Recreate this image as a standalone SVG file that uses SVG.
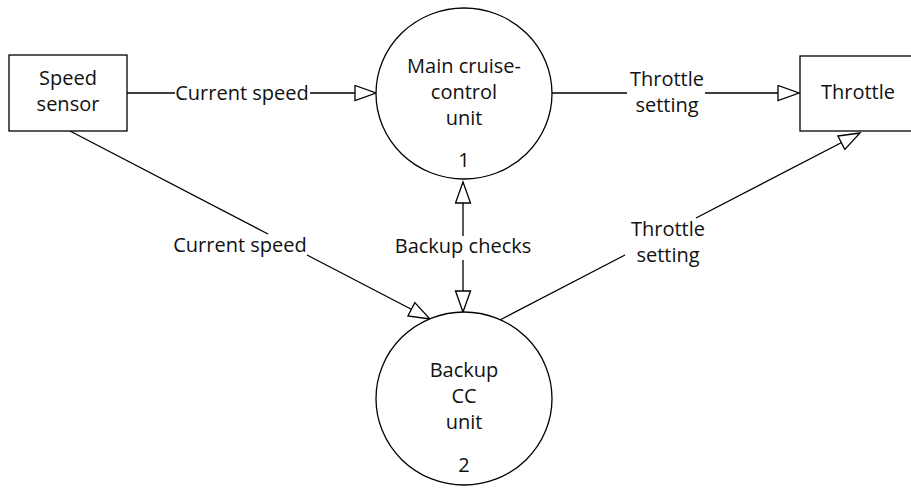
<svg xmlns="http://www.w3.org/2000/svg" width="911" height="489" viewBox="0 0 911 489">
<style>
.shape{fill:#fff;stroke:#000;stroke-width:1.3}
.conn{fill:none;stroke:#000;stroke-width:1.3}
text{font-family:"Open Sans","Noto Sans",sans-serif;font-size:20px;fill:#111;text-anchor:middle}
</style>
<defs>
<marker id="arr" markerUnits="userSpaceOnUse" markerWidth="24" markerHeight="18" viewBox="-1 -1 24 18" refX="21" refY="7.5" orient="auto">
<path d="M0,0 L21,7.5 L0,15 Z" fill="#fff" stroke="#000" stroke-width="1.3"/>
</marker>
</defs>
<rect width="911" height="489" fill="#fff"/>
<g id="connectors">
<line class="conn" x1="127" y1="93" x2="175" y2="93"/>
<line class="conn" x1="310" y1="93" x2="376" y2="93" marker-end="url(#arr)"/>
<line class="conn" x1="552" y1="93" x2="627" y2="93"/>
<line class="conn" x1="705" y1="93" x2="799" y2="93" marker-end="url(#arr)"/>
<line class="conn" x1="70" y1="131" x2="268" y2="234"/>
<line class="conn" x1="307" y1="255" x2="430" y2="319" marker-end="url(#arr)"/>
<line class="conn" x1="500" y1="320" x2="625" y2="255"/>
<line class="conn" x1="696" y1="218" x2="860" y2="133" marker-end="url(#arr)"/>
<line class="conn" x1="463" y1="236" x2="463" y2="182" marker-end="url(#arr)"/>
<line class="conn" x1="463" y1="260" x2="463" y2="312" marker-end="url(#arr)"/>
<text x="242" y="100">Current speed</text>
<text x="667" y="86">Throttle</text>
<text x="667" y="112">setting</text>
<text x="240" y="252">Current speed</text>
<text x="463" y="253">Backup checks</text>
<text x="668" y="236">Throttle</text>
<text x="668" y="262">setting</text>
</g>
<g id="speed-sensor">
<rect class="shape" x="9" y="55" width="118" height="76"/>
<text x="68" y="85">Speed</text>
<text x="68" y="111">sensor</text>
</g>
<g id="main-unit">
<ellipse class="shape" cx="464" cy="93.5" rx="88" ry="85.5"/>
<text x="464" y="73">Main cruise-</text>
<text x="464" y="99">control</text>
<text x="464" y="125">unit</text>
<text x="464" y="167">1</text>
</g>
<g id="throttle">
<rect class="shape" x="800" y="56" width="120" height="75"/>
<text x="858" y="99">Throttle</text>
</g>
<g id="backup-unit">
<ellipse class="shape" cx="464" cy="398.5" rx="88" ry="86.5"/>
<text x="464" y="377">Backup</text>
<text x="464" y="403">CC</text>
<text x="464" y="429">unit</text>
<text x="464" y="472">2</text>
</g>
</svg>
